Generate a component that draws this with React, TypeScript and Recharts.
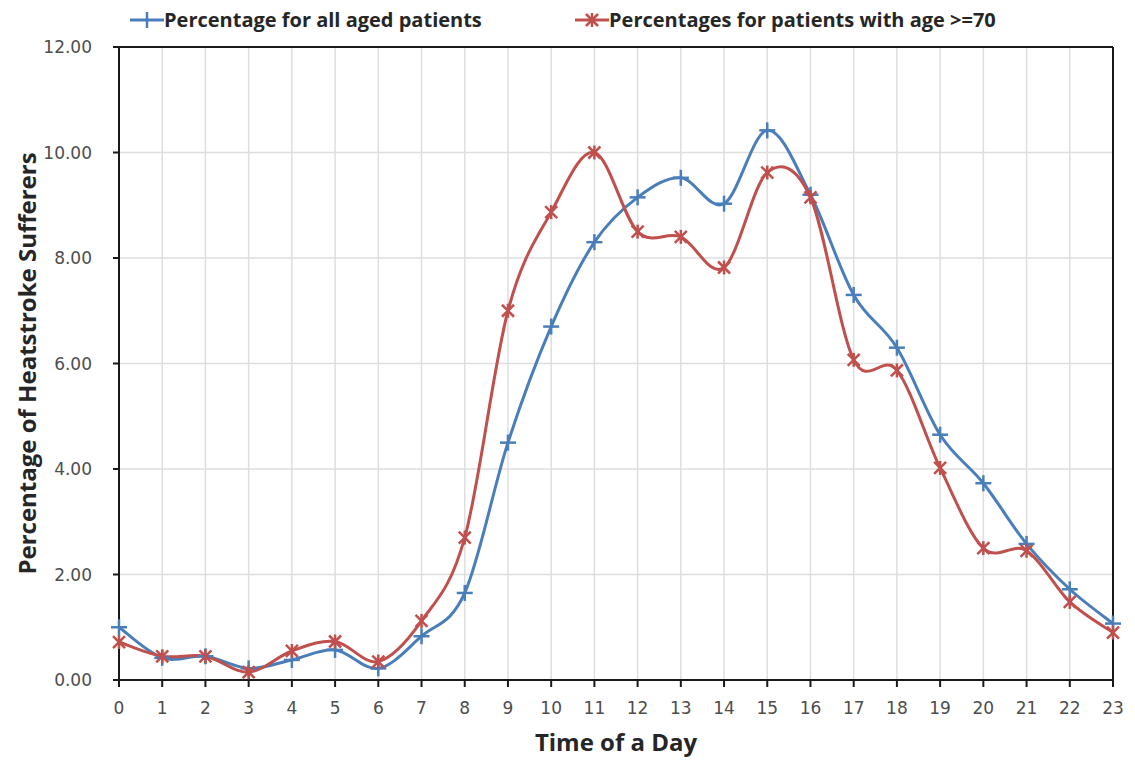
import React from "react";
import {
  CartesianGrid,
  Label,
  Line,
  LineChart,
  ReferenceLine,
  XAxis,
  YAxis,
} from "recharts";

const hours = [
  0, 1, 2, 3, 4, 5, 6, 7, 8, 9, 10, 11, 12, 13, 14, 15, 16, 17, 18, 19, 20, 21, 22, 23,
];
const allAged = [
  1.0, 0.42, 0.45, 0.22, 0.38, 0.57, 0.22, 0.83, 1.65, 4.5, 6.7, 8.3, 9.15, 9.52,
  9.03, 10.42, 9.2, 7.3, 6.3, 4.65, 3.73, 2.58, 1.72, 1.07,
];
const aged70 = [
  0.72, 0.45, 0.45, 0.15, 0.55, 0.73, 0.35, 1.12, 2.7, 7.0, 8.87, 10.0, 8.5, 8.4,
  7.82, 9.62, 9.15, 6.07, 5.87, 4.02, 2.5, 2.45, 1.48, 0.9,
];
const yTicks = [0, 2, 4, 6, 8, 10, 12];

const BLUE = "#4a7ebb";
const RED = "#c0504d";
const TITLE_FONT = "'Open Sans', sans-serif";
const TICK_FONT = "'DejaVu Sans', sans-serif";

const data = hours.map((h, i) => ({ hour: h, all: allAged[i], old: aged70[i] }));

// smoothing close to what excel does (catmull-rom through the points)
const smoothCurve = (context: any) => {
  let pts: number[][] = [];
  return {
    areaStart() {},
    areaEnd() {},
    lineStart() {
      pts = [];
    },
    lineEnd() {
      if (!pts.length) return;
      context.moveTo(pts[0][0], pts[0][1]);
      for (let i = 0; i < pts.length - 1; i++) {
        const p0 = pts[Math.max(i - 1, 0)];
        const p1 = pts[i];
        const p2 = pts[i + 1];
        const p3 = pts[Math.min(i + 2, pts.length - 1)];
        context.bezierCurveTo(
          p1[0] + (p2[0] - p0[0]) / 6,
          p1[1] + (p2[1] - p0[1]) / 6,
          p2[0] - (p3[0] - p1[0]) / 6,
          p2[1] - (p3[1] - p1[1]) / 6,
          p2[0],
          p2[1]
        );
      }
    },
    point(x: number, y: number) {
      pts.push([+x, +y]);
    },
  };
};

const PlusDot = (props: any) => {
  const { cx, cy } = props;
  if (cx == null || cy == null) return null;
  const s = 8;
  return (
    <g stroke={BLUE} strokeWidth={2.5}>
      <line x1={cx - s} y1={cy} x2={cx + s} y2={cy} />
      <line x1={cx} y1={cy - s} x2={cx} y2={cy + s} />
    </g>
  );
};

const StarDot = (props: any) => {
  const { cx, cy } = props;
  if (cx == null || cy == null) return null;
  const s = 6;
  return (
    <g stroke={RED} strokeWidth={2.5}>
      <line x1={cx - s} y1={cy - s} x2={cx + s} y2={cy + s} />
      <line x1={cx - s} y1={cy + s} x2={cx + s} y2={cy - s} />
      <line x1={cx} y1={cy - s - 1} x2={cx} y2={cy + s + 1} />
    </g>
  );
};

const legendText: React.CSSProperties = {
  fontFamily: TITLE_FONT,
  fontWeight: 700,
  fontSize: 20,
  color: "#262626",
  whiteSpace: "nowrap",
};

const ChartLegend = () => (
  <>
    <div style={{ position: "absolute", left: 130, top: 6, display: "flex", alignItems: "center" }}>
      <svg width={34} height={24}>
        <line x1={0} y1={12} x2={34} y2={12} stroke={BLUE} strokeWidth={3} />
        <line x1={17} y1={4} x2={17} y2={20} stroke={BLUE} strokeWidth={2.5} />
      </svg>
      <span style={legendText}>Percentage for all aged patients</span>
    </div>
    <div style={{ position: "absolute", left: 575, top: 6, display: "flex", alignItems: "center" }}>
      <svg width={34} height={24}>
        <line x1={0} y1={12} x2={34} y2={12} stroke={RED} strokeWidth={3} />
        <line x1={11} y1={6} x2={23} y2={18} stroke={RED} strokeWidth={2.5} />
        <line x1={11} y1={18} x2={23} y2={6} stroke={RED} strokeWidth={2.5} />
        <line x1={17} y1={5} x2={17} y2={19} stroke={RED} strokeWidth={2.5} />
      </svg>
      <span style={legendText}>Percentages for patients with age &gt;=70</span>
    </div>
  </>
);

const YTitle = (props: any) => {
  const cy = props.viewBox ? props.viewBox.y + props.viewBox.height / 2 : 363;
  return (
    <text
      x={26}
      y={cy}
      transform={`rotate(-90 26 ${cy})`}
      textAnchor="middle"
      dominantBaseline="central"
      style={{ fontFamily: TITLE_FONT, fontWeight: 700, fontSize: 24, fill: "#262626" }}
    >
      Percentage of Heatstroke Sufferers
    </text>
  );
};

export default function App() {
  return (
    <div style={{ position: "absolute", left: 0, top: 0, width: 1135, height: 761, background: "#fff" }}>
      <ChartLegend />
      <LineChart
        width={1135}
        height={761}
        data={data}
        margin={{ top: 47, right: 22, left: 0, bottom: 51 }}
      >
        <CartesianGrid stroke="#dedede" strokeWidth={1.5} />
        <XAxis
          dataKey="hour"
          type="number"
          domain={[0, 23]}
          ticks={hours}
          interval={0}
          height={30}
          stroke="#1a1a1a"
          strokeWidth={2}
          tickSize={7}
          tickMargin={15}
          tick={{ fill: "#4d4d4d", fontSize: 17, fontFamily: TICK_FONT }}
        >
          <Label
            value="Time of a Day"
            position="bottom"
            offset={24}
            style={{ fontFamily: TITLE_FONT, fontWeight: 700, fontSize: 24, fill: "#262626" }}
          />
        </XAxis>
        <YAxis
          type="number"
          domain={[0, 12]}
          ticks={yTicks}
          width={119}
          stroke="#1a1a1a"
          strokeWidth={2}
          tickSize={6}
          tickMargin={21}
          tickFormatter={(v: number) => v.toFixed(2)}
          tick={{ fill: "#4d4d4d", fontSize: 17, fontFamily: TICK_FONT }}
        >
          <Label content={<YTitle />} />
        </YAxis>
        <ReferenceLine y={12} stroke="#1a1a1a" strokeWidth={2} />
        <ReferenceLine x={23} stroke="#1a1a1a" strokeWidth={2} />
        <Line
          dataKey="all"
          type={smoothCurve as any}
          stroke={BLUE}
          strokeWidth={3}
          dot={<PlusDot />}
          activeDot={false}
          isAnimationActive={false}
        />
        <Line
          dataKey="old"
          type={smoothCurve as any}
          stroke={RED}
          strokeWidth={3}
          dot={<StarDot />}
          activeDot={false}
          isAnimationActive={false}
        />
      </LineChart>
    </div>
  );
}
